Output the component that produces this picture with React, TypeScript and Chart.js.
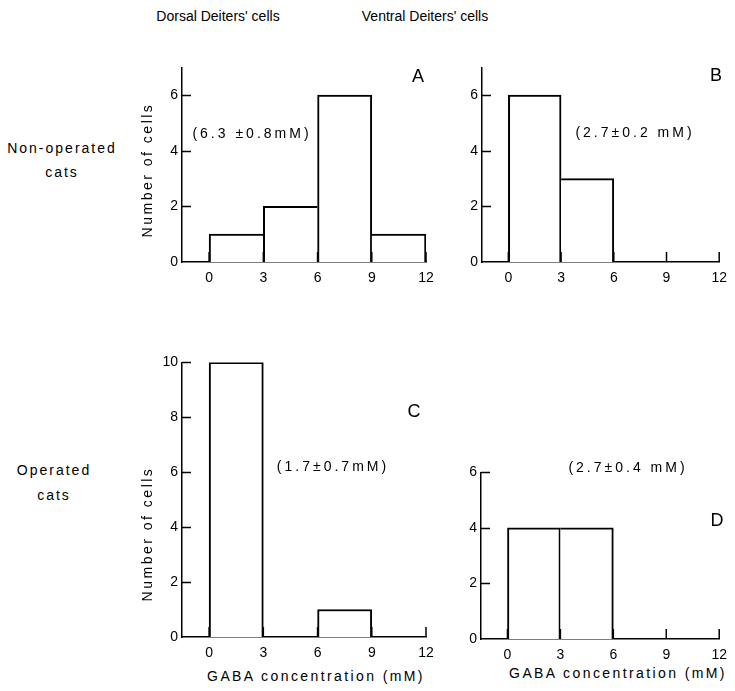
import React, { useEffect, useRef } from "react";
import { Chart, registerables } from "chart.js";

Chart.register(...registerables);

// ---- data ----
const binCenters = [1.5, 4.5, 7.5, 10.5];
const xTickValues = [0, 3, 6, 9, 12];
const countsA = [1, 2, 6, 1];
const countsB = [6, 3, 0, 0];
const countsC = [10, 0, 1, 0];
const countsD = [4, 4, 0, 0];
const yTicksTop = [0, 2, 4, 6];
const yTicksC = [0, 2, 4, 6, 8, 10];
const yTicksD = [0, 2, 4, 6];
const yMaxTop = 7;
const yMaxC = 10;
const yMaxD = 6;
const xMin = -1.5;
const xMax = 12;

const FONT = "'Liberation Sans', Arial, sans-serif";

type Box = { left: number; top: number; width: number; height: number };
type Area = { left: number; right: number; top: number; bottom: number };

const inwardTicks = {
  id: "inwardTicks",
  afterDatasetsDraw(chart: any) {
    const { ctx, chartArea, scales } = chart;
    const x = scales.x;
    const y = scales.y;
    ctx.save();
    ctx.strokeStyle = "#000";
    ctx.lineWidth = 1.5;
    y.ticks.forEach((t: any) => {
      if (t.value === 0) return;
      const py = Math.round(y.getPixelForValue(t.value)) + 0.5;
      ctx.beginPath();
      ctx.moveTo(chartArea.left, py);
      ctx.lineTo(chartArea.left + 9, py);
      ctx.stroke();
    });
    x.ticks.forEach((t: any) => {
      const px = x.getPixelForValue(t.value);
      ctx.beginPath();
      ctx.moveTo(px, chartArea.bottom);
      ctx.lineTo(px, chartArea.bottom - 10);
      ctx.stroke();
    });
    ctx.restore();
  },
};

function Panel({
  counts,
  yMax,
  yTicks,
  box,
  area,
}: {
  counts: number[];
  yMax: number;
  yTicks: number[];
  box: Box;
  area: Area;
}) {
  const ref = useRef<HTMLCanvasElement>(null);
  useEffect(() => {
    if (!ref.current) return;
    const padTop = area.top - box.top;
    const padRight = box.left + box.width - area.right;
    const yWidth = area.left - box.left;
    const xHeight = box.top + box.height - area.bottom;
    const chart = new Chart(ref.current, {
      type: "bar",
      data: {
        datasets: [
          {
            data: binCenters.map((x, i) => ({ x, y: counts[i] === 0 ? null : counts[i] })) as any,
            backgroundColor: "#fff",
            borderColor: "#000",
            borderSkipped: false,
            barPercentage: 1,
            categoryPercentage: 1,
            borderWidth: (c: any) => {
              const i = c.dataIndex;
              const cur = counts[i] || 0;
              const prev = i > 0 ? counts[i - 1] || 0 : 0;
              const next = i < counts.length - 1 ? counts[i + 1] || 0 : 0;
              const left = prev === 0 ? 2 : cur > prev ? 2 : 0;
              const right = next === 0 ? 2 : cur >= next ? 2 : 0;
              return { top: 2, bottom: 0, left, right };
            },
          } as any,
        ],
      },
      options: {
        responsive: false,
        maintainAspectRatio: false,
        animation: false,
        layout: { padding: { left: 0, top: padTop, right: padRight, bottom: 0 } },
        plugins: {
          legend: { display: false },
          tooltip: { enabled: false },
          title: { display: false },
        },
        scales: {
          x: {
            type: "linear",
            min: xMin,
            max: xMax,
            offset: false,
            grid: { display: false, drawTicks: false },
            border: { display: true, color: "#000", width: 1.5 },
            ticks: {
              color: "#000",
              font: { family: FONT, size: 14 },
              padding: 8,
              maxRotation: 0,
              autoSkip: false,
            },
            afterBuildTicks: (s: any) => {
              s.ticks = xTickValues.map((v) => ({ value: v }));
            },
            afterFit: (s: any) => {
              s.height = xHeight;
            },
          },
          y: {
            type: "linear",
            min: 0,
            max: yMax,
            grid: { display: false, drawTicks: false },
            border: { display: true, color: "#000", width: 1.5 },
            ticks: {
              color: "#000",
              font: { family: FONT, size: 14 },
              padding: 4,
              autoSkip: false,
            },
            afterBuildTicks: (s: any) => {
              s.ticks = yTicks.map((v) => ({ value: v }));
            },
            afterFit: (s: any) => {
              s.width = yWidth;
            },
          },
        },
      } as any,
      plugins: [inwardTicks],
    });
    return () => chart.destroy();
  }, []);
  return (
    <canvas
      ref={ref}
      width={box.width}
      height={box.height}
      style={{
        position: "absolute",
        left: box.left,
        top: box.top,
        width: box.width,
        height: box.height,
      }}
    />
  );
}

function Label({
  text,
  x,
  y,
  size = 14,
  spacing = 0,
  rotate = 0,
}: {
  text: string;
  x: number;
  y: number;
  size?: number;
  spacing?: number;
  rotate?: number;
}) {
  return (
    <div
      style={{
        position: "absolute",
        left: x,
        top: y,
        transform: `translate(-50%, -50%) rotate(${rotate}deg)`,
        fontFamily: FONT,
        fontSize: size,
        letterSpacing: spacing,
        whiteSpace: "nowrap",
        color: "#000",
        lineHeight: 1,
      }}
    >
      {text}
    </div>
  );
}

export default function App() {
  return (
    <div
      style={{
        position: "absolute",
        left: 0,
        top: 0,
        width: 735,
        height: 691,
        overflow: "hidden",
        background: "#fff",
      }}
    >
      <Label text="Dorsal Deiters' cells" x={218} y={16} />
      <Label text="Ventral Deiters' cells" x={425} y={16} />
      <Label text="Non-operated" x={62} y={148} spacing={2} />
      <Label text="cats" x={62} y={172} spacing={2} />
      <Label text="Operated" x={54} y={470} spacing={2} />
      <Label text="cats" x={54} y={495} spacing={2} />

      <Panel
        counts={countsA}
        yMax={yMaxTop}
        yTicks={yTicksTop}
        box={{ left: 150, top: 55, width: 295, height: 235 }}
        area={{ left: 182, right: 426, top: 67, bottom: 262 }}
      />
      <Panel
        counts={countsB}
        yMax={yMaxTop}
        yTicks={yTicksTop}
        box={{ left: 450, top: 55, width: 285, height: 235 }}
        area={{ left: 482, right: 726, top: 67, bottom: 262 }}
      />
      <Panel
        counts={countsC}
        yMax={yMaxC}
        yTicks={yTicksC}
        box={{ left: 150, top: 350, width: 295, height: 315 }}
        area={{ left: 182, right: 426, top: 361, bottom: 637 }}
      />
      <Panel
        counts={countsD}
        yMax={yMaxD}
        yTicks={yTicksD}
        box={{ left: 450, top: 460, width: 285, height: 205 }}
        area={{ left: 481, right: 725, top: 471, bottom: 639 }}
      />

      <Label text="Number of cells" x={147} y={170} spacing={2.5} rotate={-90} />
      <Label text="Number of cells" x={147} y={534} spacing={2.5} rotate={-90} />
      <Label text="GABA concentration (mM)" x={316} y={676} spacing={2.4} />
      <Label text="GABA concentration (mM)" x={618} y={673} spacing={2.4} />

      <Label text="A" x={418} y={76} size={18} />
      <Label text="B" x={716} y={75} size={18} />
      <Label text="C" x={414} y={411} size={18} />
      <Label text="D" x={717} y={520} size={18} />

      <Label text="(6.3 ±0.8mM)" x={252} y={133} spacing={3} />
      <Label text="(2.7±0.2 mM)" x={635} y={132} spacing={3} />
      <Label text="(1.7±0.7mM)" x={333} y={466} spacing={3} />
      <Label text="(2.7±0.4 mM)" x={628} y={467} spacing={3} />
    </div>
  );
}
